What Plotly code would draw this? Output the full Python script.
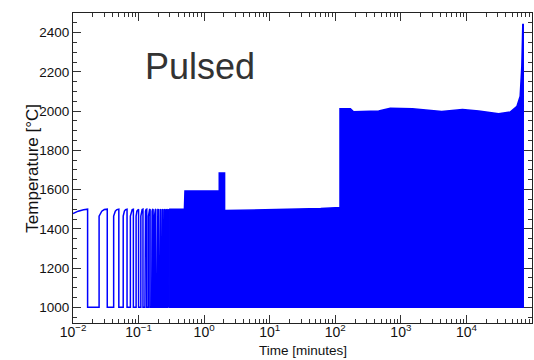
import plotly.graph_objects as go

# --- data -------------------------------------------------------------
# Start-up ramp before the first off phase (time in minutes, temperature in degC)
ramp_t = [0.01, 0.012, 0.0145, 0.0167, 0.0167]
ramp_T = [1478, 1490, 1497, 1500, 1000]

# Individually resolved heating pulses: switch-on / switch-off times (minutes)
pulse_on = [0.025, 0.0417, 0.0583, 0.075, 0.0917, 0.1083, 0.125, 0.1417,
            0.1583, 0.175, 0.1917, 0.2083, 0.225, 0.2417, 0.2583, 0.275]
pulse_off = [0.0333, 0.05, 0.0667, 0.0833, 0.1, 0.1167, 0.1333, 0.15,
             0.1667, 0.1833, 0.2, 0.2167, 0.2333, 0.25, 0.2667, 0.2833]
pulse_low = 1000
pulse_rise = [1465, 1490, 1498, 1500]   # temperature along one on-phase

# Upper envelope of the densely pulsed region (minutes, degC)
env_t = [0.2917, 0.5, 0.51, 1.7, 1.7, 2.05, 2.05, 5, 10, 30, 60, 100, 118,
         118, 170, 190, 300, 460, 690, 1500, 4200, 8700, 15400, 31000,
         46500, 59000, 66000, 70000, 72400, 73500]
env_T = [1500, 1500, 1593, 1593, 1685, 1685, 1493, 1495, 1497, 1500, 1503,
         1508, 1508, 2012, 2012, 1997, 2000, 2000, 2015, 2012, 1998, 2008,
         2000, 1986, 1995, 2025, 2076, 2230, 2442, 2442]

x_tick_exp = [-2, -1, 0, 1, 2, 3, 4, 5]
y_ticks = [1000, 1200, 1400, 1600, 1800, 2000, 2200, 2400]

# --- build the pulse polyline ------------------------------------------
line_t = list(ramp_t)
line_T = list(ramp_T)
rise_frac = [0.0, 0.3, 0.6, 1.0]
for t_on, t_off in zip(pulse_on, pulse_off):
    line_t.append(t_on)
    line_T.append(pulse_low)
    for f, temp in zip(rise_frac, pulse_rise):
        line_t.append(t_on + f * (t_off - t_on))
        line_T.append(temp)
    line_t.append(t_off)
    line_T.append(pulse_low)

# closed polygon for the filled region
poly_t = env_t + [env_t[-1], env_t[0], env_t[0]]
poly_T = env_T + [pulse_low, pulse_low, env_T[0]]

# log-axis tick positions and labels
x_tickvals = [10.0 ** e for e in x_tick_exp]
x_ticktext = ["10<sup>%s</sup>" % str(e).replace("-", "\u2212") for e in x_tick_exp]
x_minor = [m * 10.0 ** e for e in x_tick_exp[:-1] for m in range(2, 10)]

BLUE = "#0000ff"
fig = go.Figure()
fig.add_trace(go.Scatter(x=line_t, y=line_T, mode="lines",
                         line=dict(color=BLUE, width=1.5), hoverinfo="skip"))
fig.add_trace(go.Scatter(x=poly_t, y=poly_T, mode="lines", fill="toself",
                         fillcolor=BLUE, line=dict(color=BLUE, width=1.5),
                         hoverinfo="skip"))

SANS = "Liberation Sans, Arial, sans-serif"
fig.update_layout(
    width=534, height=360,
    margin=dict(l=73, r=2, t=13, b=37),
    paper_bgcolor="white", plot_bgcolor="white",
    showlegend=False,
    xaxis=dict(type="log", range=[-2, 5], tickmode="array",
               tickvals=x_tickvals, ticktext=x_ticktext,
               showgrid=False, zeroline=False, showline=True, linecolor="#222",
               linewidth=1, mirror="allticks", ticks="inside", ticklen=8,
               tickcolor="#333", ticklabelstandoff=-4,
               tickfont=dict(family=SANS, size=14, color="#111"),
               minor=dict(ticks="inside", ticklen=4, tickcolor="#333",
                          tickmode="array", tickvals=x_minor, showgrid=False)),
    yaxis=dict(range=[920, 2500], tickvals=y_ticks, showgrid=False,
               zeroline=False, showline=True, linecolor="#222", linewidth=1,
               mirror="allticks", ticks="inside", ticklen=8, tickcolor="#333",
               tickfont=dict(family=SANS, size=13.5, color="#111"),
               minor=dict(ticks="inside", ticklen=4, tickcolor="#333",
                          dtick=50, showgrid=False)),
    annotations=[
        dict(text="Pulsed", xref="paper", yref="paper", x=0.152, y=0.828,
             xanchor="left", yanchor="middle", showarrow=False,
             font=dict(family=SANS, size=36, color="#333")),
        dict(text="Temperature [°C]", xref="paper", yref="paper", x=-0.09,
             y=0.5, xanchor="center", yanchor="middle", textangle=-90,
             showarrow=False, font=dict(family=SANS, size=17, color="#111")),
        dict(text="Time [minutes]", xref="paper", yref="paper", x=0.5,
             y=-0.088, xanchor="center", yanchor="middle", showarrow=False,
             font=dict(family=SANS, size=13.5, color="#111")),
    ],
)

fig.write_html("out.html")
